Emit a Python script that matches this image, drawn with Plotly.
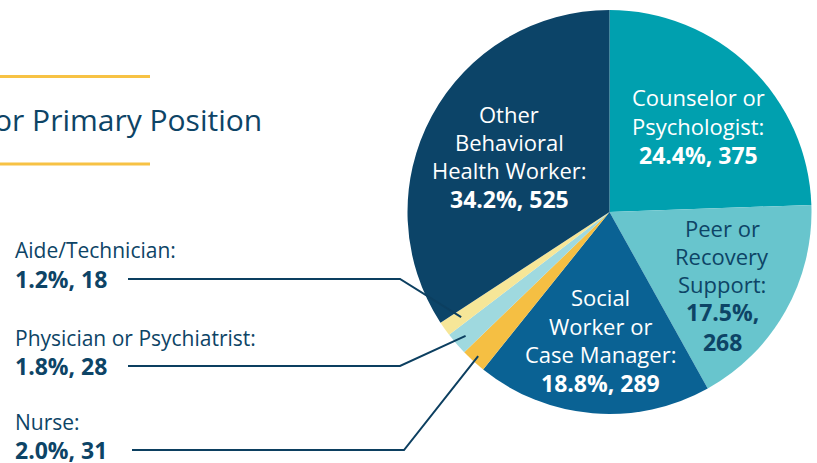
import plotly.graph_objects as go
import math

W, H = 817, 463

# ---- data ----
categories = ["Counselor or Psychologist", "Peer or Recovery Support",
              "Social Worker or Case Manager", "Nurse", "Physician or Psychiatrist",
              "Aide/Technician", "Other Behavioral Health Worker"]
counts = [375, 268, 289, 31, 28, 18, 525]
percents = [24.4, 17.5, 18.8, 2.0, 1.8, 1.2, 34.2]
colors = ["#00A0AF", "#68C5CD", "#0A6294", "#F5BF43", "#9FD9DF", "#F6E698", "#0C4468"]

inside_lines = {
    "Counselor or Psychologist": ["Counselor or", "Psychologist:"],
    "Peer or Recovery Support": ["Peer or", "Recovery", "Support:"],
    "Social Worker or Case Manager": ["Social", "Worker or", "Case Manager:"],
    "Other Behavioral Health Worker": ["Other", "Behavioral", "Health Worker:"],
}
outside_names = {"Aide/Technician": "Aide/Technician:",
                 "Physician or Psychiatrist": "Physician or Psychiatrist:",
                 "Nurse": "Nurse:"}
title_text = "or Primary Position"

# ---- layout constants (pixels) ----
cx, cy, R = 609.5, 212.0, 202.0
NAVY = "#0D4466"
FONT = "Open Sans"


def px(x):
    return x / W


def py(y):
    return 1 - y / H


fig = go.Figure(go.Pie(
    labels=categories, values=counts, sort=False, direction="clockwise", rotation=0,
    marker=dict(colors=colors, line=dict(width=0)), textinfo="none", hoverinfo="label+value+percent",
    domain=dict(x=[px(cx - R), px(cx + R)], y=[py(cy + R), py(cy - R)]),
    showlegend=False,
))

annotations = []
shapes = []

# inside label positions (pixel centres of each text line) - style only
inside_pos = {
    "Counselor or Psychologist": (698, [97, 126], "white"),
    "Peer or Recovery Support": (722, [228, 256, 284], NAVY),
    "Social Worker or Case Manager": (600, [297, 326, 354], "white"),
    "Other Behavioral Health Worker": (509, [114, 142, 170], "white"),
}
for cat, n, p in zip(categories, counts, percents):
    if cat in inside_lines:
        x, ys, col = inside_pos[cat]
        for line, y in zip(inside_lines[cat], ys):
            annotations.append(dict(x=px(x), y=py(y), xref="paper", yref="paper", text=line,
                                    showarrow=False, xanchor="center", yanchor="middle",
                                    font=dict(family=FONT, size=22, color=col)))
        if cat == "Peer or Recovery Support":
            t, y = f"{p:.1f}%,<br>{n}", ys[-1] + 43
        else:
            t, y = f"{p:.1f}%, {n}", ys[-1] + 29
        annotations.append(dict(x=px(x), y=py(y), xref="paper", yref="paper", text=f"<b>{t}</b>",
                                showarrow=False, xanchor="center", yanchor="middle", align="center",
                                font=dict(family=FONT, size=23, color=col, weight=800)))

# outside labels with leader lines
outside_pos = {"Aide/Technician": (250, 279, 0.90),
               "Physician or Psychiatrist": (338, 366, 0.94),
               "Nurse": (422, 450, 0.965)}
total = sum(counts)
cum = 0
for cat, n, p in zip(categories, counts, percents):
    mid = (cum + n / 2) / total * 2 * math.pi
    cum += n
    if cat not in outside_names:
        continue
    y1, y2, f = outside_pos[cat]
    annotations.append(dict(x=px(13), y=py(y1), xref="paper", yref="paper",
                            text=outside_names[cat], showarrow=False, xanchor="left", yanchor="middle",
                            font=dict(family=FONT, size=21, color=NAVY)))
    annotations.append(dict(x=px(13), y=py(y2), xref="paper", yref="paper",
                            text=f"<b>{p:.1f}%, {n}</b>", showarrow=False, xanchor="left", yanchor="middle",
                            font=dict(family=FONT, size=23, color=NAVY, weight=800)))
    ex = cx + f * R * math.sin(mid)
    ey = cy - f * R * math.cos(mid)
    x0 = 128 if cat != "Nurse" else 132
    xe = 400 if cat != "Nurse" else 404
    path = f"M {px(x0)},{py(y2)} L {px(xe)},{py(y2)} L {px(ex)},{py(ey)}"
    shapes.append(dict(type="path", xref="paper", yref="paper", path=path,
                       line=dict(color="#0C3F60", width=2)))

# title fragment and gold rules
annotations.append(dict(x=px(264), y=py(120), xref="paper", yref="paper", text=title_text,
                        showarrow=False, xanchor="right", yanchor="middle",
                        font=dict(family=FONT, size=30, color=NAVY)))
for yy in (76.5, 164):
    shapes.append(dict(type="line", xref="paper", yref="paper", x0=0, x1=px(150), y0=py(yy), y1=py(yy),
                       line=dict(color="#F7C244", width=3)))

fig.update_layout(width=W, height=H, margin=dict(l=0, r=0, t=0, b=0),
                  paper_bgcolor="white", plot_bgcolor="white",
                  annotations=annotations, shapes=shapes)

fig.write_html("out.html", config={"displayModeBar": False},
               post_script="document.body.style.margin='0';document.body.style.overflow='hidden';")
